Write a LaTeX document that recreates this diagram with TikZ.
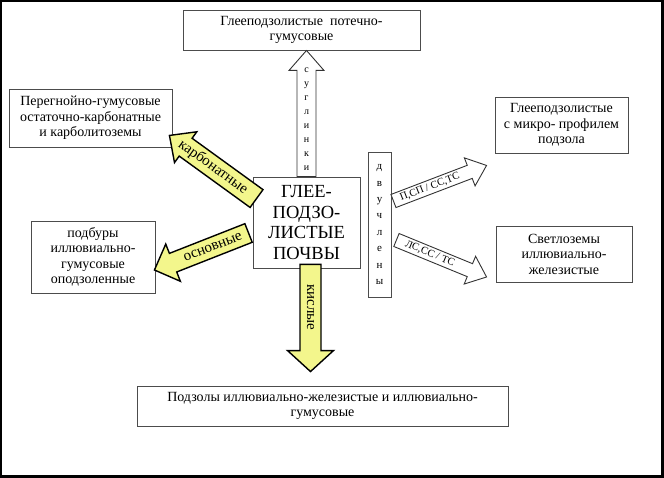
\documentclass[tikz,border=0pt]{standalone}
\usepackage{fontspec}
\setmainfont{Liberation Serif}
\usetikzlibrary{calc}
\definecolor{arrowyellow}{RGB}{243,246,140}
\tikzstyle{soilbox} = [draw=black!70, line width=0.9pt, fill=white,
    rectangle, align=center, inner sep=0pt, font=\fontsize{14}{15.5}\selectfont]
\tikzstyle{yellowarrow} = [draw=black, line width=1.4pt, fill=arrowyellow]
\tikzstyle{whitearrow} = [draw=black!80, line width=0.9pt, fill=white]
\tikzstyle{arrowtext} = [inner sep=0pt, font=\fontsize{15}{15}\selectfont]
\tikzstyle{smalltext} = [inner sep=0pt, align=center]
\newcommand{\fatarrow}[6]{%
  \coordinate (hb) at ($(#3)!#6!(#2)$);
  \draw[#1] ($(#2)!#4!90:(#3)$) -- ($(hb)!#4!90:(#3)$) -- ($(hb)!#5!90:(#3)$) -- (#3)
    -- ($(hb)!#5!-90:(#3)$) -- ($(hb)!#4!-90:(#3)$) -- ($(#2)!#4!-90:(#3)$) -- cycle;}

\begin{document}
\begin{tikzpicture}[x=1pt,y=-1pt]
\useasboundingbox (0,0) rectangle (664,478);
\draw[line width=2.2pt] (1.1,1.1) rectangle (662.4,476.4);

\node[soilbox, minimum width=237pt, minimum height=40pt] (top) at (301.5,30)
    {Глееподзолистые\ \ потечно-\\гумусовые};
\node[soilbox, minimum width=163pt, minimum height=58pt] (lefttop) at (90.5,118)
    {Перегнойно-гумусовые\\остаточно-карбонатные\\и карболитоземы};
\node[soilbox, minimum width=124pt, minimum height=72pt] (leftbot) at (93,257)
    {подбуры\\иллювиально-\\гумусовые\\оподзоленные};
\node[soilbox, minimum width=107pt, minimum height=91pt,
    font=\fontsize{18.5}{20.5}\selectfont] (center) at (306.5,222.5)
    {ГЛЕЕ-\\ПОДЗО-\\ЛИСТЫЕ\\ПОЧВЫ};
\node[soilbox, minimum width=23pt, minimum height=145pt,
    font=\fontsize{11}{16.4}\selectfont] (dvu) at (379.5,224.5)
    {д\\в\\у\\ч\\л\\е\\н\\ы};
\node[soilbox, minimum width=133pt, minimum height=56pt] (righttop) at (561.5,125)
    {Глееподзолистые\\с микро- профилем\\подзола};
\node[soilbox, minimum width=136pt, minimum height=56pt] (rightbot) at (564,254)
    {Светлоземы\\иллювиально-\\железистые};
\node[soilbox, minimum width=371pt, minimum height=40pt] (bottom) at (322.5,406)
    {Подзолы иллювиально-железистые и иллювиально-\\гумусовые};

\coordinate (suglB) at (center.north |- top.south);
\coordinate (kislA) at ($(center.south)+(4,-4)$);
\coordinate (kislB) at ($(kislA |- bottom.north)+(0,-14)$);
\coordinate (karbA) at ($(center.north west)+(4,22)$);
\coordinate (karbB) at ($(lefttop.south east)+(-3,-12)$);
\coordinate (osnA) at ($(center.west)+(-4,10.5)$);
\coordinate (osnB) at ($(leftbot.east)+(-1,13)$);
\coordinate (upA) at ($(dvu.east)+(2,-23.5)$);
\coordinate (upB) at ($(righttop.south west)+(-8,12)$);
\coordinate (downA) at ($(dvu.east)+(5,15.5)$);
\coordinate (downB) at ($(rightbot.west)+(-9,23)$);

\fatarrow{whitearrow}{center.north}{suglB}{9.5pt}{17.5pt}{20pt}
\fatarrow{yellowarrow}{kislA}{kislB}{10.5pt}{23pt}{21pt}
\fatarrow{yellowarrow}{karbA}{karbB}{11pt}{19pt}{20pt}
\fatarrow{yellowarrow}{osnA}{osnB}{10pt}{20pt}{20pt}
\fatarrow{whitearrow}{upA}{upB}{7pt}{15pt}{18pt}
\fatarrow{whitearrow}{downA}{downB}{7pt}{15pt}{18pt}

\node[smalltext, font=\fontsize{10}{14}\selectfont] (sugltext) at (306.5,119.5)
    {с\\у\\г\\л\\и\\н\\к\\и};
\path (kislA) -- (kislB) node[arrowtext, rotate=-90, pos=0.4] (kisltext) {кислые};
\path (karbA) -- (karbB) node[arrowtext, sloped, pos=0.5] (karbtext) {карбонатные};
\path (osnA) -- (osnB) node[arrowtext, sloped, pos=0.38] (osntext) {основные};
\path (upA) -- (upB) node[arrowtext, sloped, pos=0.39, font=\fontsize{10.5}{10.5}\selectfont]
    (uptext) {П,СП / СС,ТС};
\path (downA) -- (downB) node[arrowtext, sloped, pos=0.37, font=\fontsize{10.5}{10.5}\selectfont]
    (downtext) {ЛС,СС / ТС};
\end{tikzpicture}
\end{document}
